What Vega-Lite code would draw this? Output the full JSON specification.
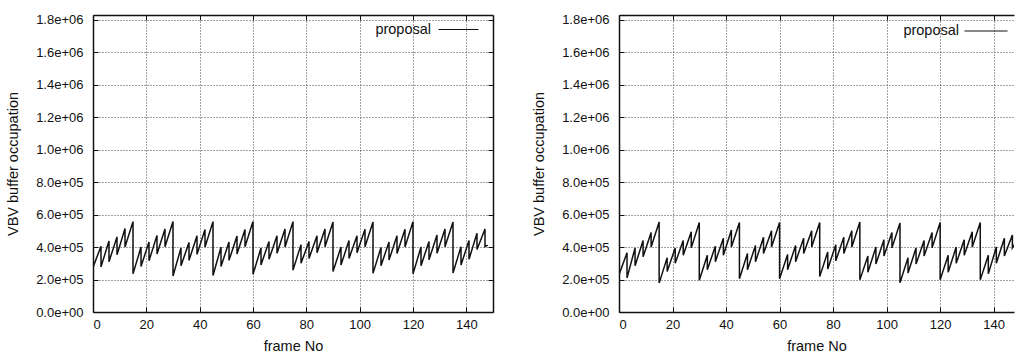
{
  "$schema": "https://vega.github.io/schema/vega-lite/v6.json",
  "background": "white",
  "padding": {"left": 5, "top": 9, "right": 0, "bottom": 0},
  "spacing": 37,
  "resolve": {"scale": {"color": "independent"}, "legend": {"color": "independent"}},
  "config": {
    "font": "Liberation Sans",
    "view": {"stroke": null},
    "axis": {
      "domainColor": "#111",
      "domainWidth": 1.5,
      "tickColor": "#111",
      "tickWidth": 1,
      "tickSize": -5,
      "labelColor": "#111",
      "labelFontSize": 13,
      "titleColor": "#111",
      "titleFontSize": 14.5,
      "titleFontWeight": "normal",
      "gridColor": "#444",
      "gridDash": [1, 2],
      "gridWidth": 1
    }
  },
  "datasets": {
    "left": [
      {"i": 0, "frame": 0, "value": 275000},
      {"i": 1, "frame": 3, "value": 405000}, {"i": 2, "frame": 3, "value": 278000},
      {"i": 3, "frame": 6, "value": 438000}, {"i": 4, "frame": 6, "value": 310000},
      {"i": 5, "frame": 9, "value": 463000}, {"i": 6, "frame": 9, "value": 352000},
      {"i": 7, "frame": 12, "value": 515000}, {"i": 8, "frame": 12, "value": 400000},
      {"i": 9, "frame": 15, "value": 557000}, {"i": 10, "frame": 15, "value": 235000},
      {"i": 11, "frame": 18, "value": 400000}, {"i": 12, "frame": 18, "value": 280000},
      {"i": 13, "frame": 21, "value": 432000}, {"i": 14, "frame": 21, "value": 316000},
      {"i": 15, "frame": 24, "value": 472000}, {"i": 16, "frame": 24, "value": 358000},
      {"i": 17, "frame": 27, "value": 512000}, {"i": 18, "frame": 27, "value": 402000},
      {"i": 19, "frame": 30, "value": 557000}, {"i": 20, "frame": 30, "value": 222000},
      {"i": 21, "frame": 33, "value": 395000}, {"i": 22, "frame": 33, "value": 285000},
      {"i": 23, "frame": 36, "value": 428000}, {"i": 24, "frame": 36, "value": 318000},
      {"i": 25, "frame": 39, "value": 470000}, {"i": 26, "frame": 39, "value": 355000},
      {"i": 27, "frame": 42, "value": 508000}, {"i": 28, "frame": 42, "value": 400000},
      {"i": 29, "frame": 45, "value": 557000}, {"i": 30, "frame": 45, "value": 225000},
      {"i": 31, "frame": 48, "value": 400000}, {"i": 32, "frame": 48, "value": 280000},
      {"i": 33, "frame": 51, "value": 432000}, {"i": 34, "frame": 51, "value": 318000},
      {"i": 35, "frame": 54, "value": 468000}, {"i": 36, "frame": 54, "value": 358000},
      {"i": 37, "frame": 57, "value": 508000}, {"i": 38, "frame": 57, "value": 402000},
      {"i": 39, "frame": 60, "value": 557000}, {"i": 40, "frame": 60, "value": 232000},
      {"i": 41, "frame": 63, "value": 395000}, {"i": 42, "frame": 63, "value": 290000},
      {"i": 43, "frame": 66, "value": 435000}, {"i": 44, "frame": 66, "value": 325000},
      {"i": 45, "frame": 69, "value": 470000}, {"i": 46, "frame": 69, "value": 362000},
      {"i": 47, "frame": 72, "value": 512000}, {"i": 48, "frame": 72, "value": 400000},
      {"i": 49, "frame": 75, "value": 557000}, {"i": 50, "frame": 75, "value": 258000},
      {"i": 51, "frame": 78, "value": 415000}, {"i": 52, "frame": 78, "value": 300000},
      {"i": 53, "frame": 81, "value": 435000}, {"i": 54, "frame": 81, "value": 330000},
      {"i": 55, "frame": 84, "value": 470000}, {"i": 56, "frame": 84, "value": 365000},
      {"i": 57, "frame": 87, "value": 512000}, {"i": 58, "frame": 87, "value": 402000},
      {"i": 59, "frame": 90, "value": 555000}, {"i": 60, "frame": 90, "value": 250000},
      {"i": 61, "frame": 93, "value": 400000}, {"i": 62, "frame": 93, "value": 290000},
      {"i": 63, "frame": 96, "value": 440000}, {"i": 64, "frame": 96, "value": 330000},
      {"i": 65, "frame": 99, "value": 470000}, {"i": 66, "frame": 99, "value": 365000},
      {"i": 67, "frame": 102, "value": 510000}, {"i": 68, "frame": 102, "value": 402000},
      {"i": 69, "frame": 105, "value": 555000}, {"i": 70, "frame": 105, "value": 238000},
      {"i": 71, "frame": 108, "value": 398000}, {"i": 72, "frame": 108, "value": 285000},
      {"i": 73, "frame": 111, "value": 432000}, {"i": 74, "frame": 111, "value": 320000},
      {"i": 75, "frame": 114, "value": 470000}, {"i": 76, "frame": 114, "value": 360000},
      {"i": 77, "frame": 117, "value": 510000}, {"i": 78, "frame": 117, "value": 400000},
      {"i": 79, "frame": 120, "value": 557000}, {"i": 80, "frame": 120, "value": 235000},
      {"i": 81, "frame": 123, "value": 400000}, {"i": 82, "frame": 123, "value": 285000},
      {"i": 83, "frame": 126, "value": 435000}, {"i": 84, "frame": 126, "value": 322000},
      {"i": 85, "frame": 129, "value": 475000}, {"i": 86, "frame": 129, "value": 362000},
      {"i": 87, "frame": 132, "value": 512000}, {"i": 88, "frame": 132, "value": 402000},
      {"i": 89, "frame": 135, "value": 555000}, {"i": 90, "frame": 135, "value": 240000},
      {"i": 91, "frame": 138, "value": 402000}, {"i": 92, "frame": 138, "value": 290000},
      {"i": 93, "frame": 141, "value": 440000}, {"i": 94, "frame": 141, "value": 325000},
      {"i": 95, "frame": 144, "value": 485000}, {"i": 96, "frame": 144, "value": 385000},
      {"i": 97, "frame": 147, "value": 512000}, {"i": 98, "frame": 147, "value": 402000},
      {"i": 99, "frame": 148, "value": 412000}
    ],
    "right": [
      {"i": 0, "frame": 0, "value": 230000},
      {"i": 1, "frame": 3, "value": 365000}, {"i": 2, "frame": 3, "value": 210000},
      {"i": 3, "frame": 6, "value": 395000}, {"i": 4, "frame": 6, "value": 285000},
      {"i": 5, "frame": 9, "value": 440000}, {"i": 6, "frame": 9, "value": 340000},
      {"i": 7, "frame": 12, "value": 490000}, {"i": 8, "frame": 12, "value": 400000},
      {"i": 9, "frame": 15, "value": 555000}, {"i": 10, "frame": 15, "value": 178000},
      {"i": 11, "frame": 18, "value": 335000}, {"i": 12, "frame": 18, "value": 250000},
      {"i": 13, "frame": 21, "value": 395000}, {"i": 14, "frame": 21, "value": 300000},
      {"i": 15, "frame": 24, "value": 440000}, {"i": 16, "frame": 24, "value": 350000},
      {"i": 17, "frame": 27, "value": 495000}, {"i": 18, "frame": 27, "value": 395000},
      {"i": 19, "frame": 30, "value": 552000}, {"i": 20, "frame": 30, "value": 195000},
      {"i": 21, "frame": 33, "value": 350000}, {"i": 22, "frame": 33, "value": 260000},
      {"i": 23, "frame": 36, "value": 405000}, {"i": 24, "frame": 36, "value": 310000},
      {"i": 25, "frame": 39, "value": 455000}, {"i": 26, "frame": 39, "value": 350000},
      {"i": 27, "frame": 42, "value": 505000}, {"i": 28, "frame": 42, "value": 400000},
      {"i": 29, "frame": 45, "value": 552000}, {"i": 30, "frame": 45, "value": 205000},
      {"i": 31, "frame": 48, "value": 360000}, {"i": 32, "frame": 48, "value": 260000},
      {"i": 33, "frame": 51, "value": 410000}, {"i": 34, "frame": 51, "value": 310000},
      {"i": 35, "frame": 54, "value": 460000}, {"i": 36, "frame": 54, "value": 360000},
      {"i": 37, "frame": 57, "value": 500000}, {"i": 38, "frame": 57, "value": 400000},
      {"i": 39, "frame": 60, "value": 552000}, {"i": 40, "frame": 60, "value": 205000},
      {"i": 41, "frame": 63, "value": 355000}, {"i": 42, "frame": 63, "value": 260000},
      {"i": 43, "frame": 66, "value": 410000}, {"i": 44, "frame": 66, "value": 310000},
      {"i": 45, "frame": 69, "value": 455000}, {"i": 46, "frame": 69, "value": 360000},
      {"i": 47, "frame": 72, "value": 500000}, {"i": 48, "frame": 72, "value": 400000},
      {"i": 49, "frame": 75, "value": 552000}, {"i": 50, "frame": 75, "value": 218000},
      {"i": 51, "frame": 78, "value": 370000}, {"i": 52, "frame": 78, "value": 265000},
      {"i": 53, "frame": 81, "value": 415000}, {"i": 54, "frame": 81, "value": 315000},
      {"i": 55, "frame": 84, "value": 460000}, {"i": 56, "frame": 84, "value": 360000},
      {"i": 57, "frame": 87, "value": 500000}, {"i": 58, "frame": 87, "value": 400000},
      {"i": 59, "frame": 90, "value": 555000}, {"i": 60, "frame": 90, "value": 198000},
      {"i": 61, "frame": 93, "value": 345000}, {"i": 62, "frame": 93, "value": 245000},
      {"i": 63, "frame": 96, "value": 400000}, {"i": 64, "frame": 96, "value": 295000},
      {"i": 65, "frame": 99, "value": 445000}, {"i": 66, "frame": 99, "value": 345000},
      {"i": 67, "frame": 102, "value": 490000}, {"i": 68, "frame": 102, "value": 395000},
      {"i": 69, "frame": 105, "value": 548000}, {"i": 70, "frame": 105, "value": 180000},
      {"i": 71, "frame": 108, "value": 335000}, {"i": 72, "frame": 108, "value": 240000},
      {"i": 73, "frame": 111, "value": 395000}, {"i": 74, "frame": 111, "value": 295000},
      {"i": 75, "frame": 114, "value": 440000}, {"i": 76, "frame": 114, "value": 345000},
      {"i": 77, "frame": 117, "value": 490000}, {"i": 78, "frame": 117, "value": 395000},
      {"i": 79, "frame": 120, "value": 552000}, {"i": 80, "frame": 120, "value": 198000},
      {"i": 81, "frame": 123, "value": 350000}, {"i": 82, "frame": 123, "value": 245000},
      {"i": 83, "frame": 126, "value": 400000}, {"i": 84, "frame": 126, "value": 300000},
      {"i": 85, "frame": 129, "value": 445000}, {"i": 86, "frame": 129, "value": 350000},
      {"i": 87, "frame": 132, "value": 495000}, {"i": 88, "frame": 132, "value": 400000},
      {"i": 89, "frame": 135, "value": 552000}, {"i": 90, "frame": 135, "value": 198000},
      {"i": 91, "frame": 138, "value": 350000}, {"i": 92, "frame": 138, "value": 235000},
      {"i": 93, "frame": 141, "value": 400000}, {"i": 94, "frame": 141, "value": 300000},
      {"i": 95, "frame": 144, "value": 455000}, {"i": 96, "frame": 144, "value": 345000},
      {"i": 97, "frame": 147, "value": 475000}, {"i": 98, "frame": 147, "value": 395000},
      {"i": 99, "frame": 148, "value": 420000}
    ]
  },
  "hconcat": [
    {
      "width": 400,
      "height": 297,
      "data": {"name": "left"},
      "layer": [
        {
          "mark": {"type": "line", "strokeWidth": 1.5, "clip": true},
          "encoding": {
            "x": {"field": "frame", "type": "quantitative", "scale": {"domain": [0, 150], "nice": false},
                  "axis": {"orient": "bottom", "values": [0, 20, 40, 60, 80, 100, 120, 140], "title": "frame No", "grid": true, "labelPadding": 11, "titlePadding": 8}},
            "y": {"field": "value", "type": "quantitative", "scale": {"domain": [0, 1830000], "nice": false},
                  "axis": {"orient": "left", "values": [0, 200000, 400000, 600000, 800000, 1000000, 1200000, 1400000, 1600000, 1800000], "title": "VBV buffer occupation", "grid": true, "labelPadding": 15, "titlePadding": 15, "labelExpr": "replace(format(datum.value, '.1e'), 'e+', 'e+0')"}},
            "order": {"field": "i", "type": "quantitative"},
            "color": {"datum": "proposal", "scale": {"range": ["#111"]},
                      "legend": {"orient": "none", "legendX": 345, "legendY": -6, "title": null, "padding": 0, "symbolType": "stroke", "symbolSize": 1600, "symbolStrokeWidth": 1, "labelAlign": "right", "labelOffset": -48, "labelFontSize": 14.5, "labelColor": "#111"}}
          }
        },
        {
          "mark": {"type": "line", "strokeOpacity": 0},
          "encoding": {
            "x": {"field": "frame", "type": "quantitative", "scale": {"domain": [0, 150], "nice": false},
                  "axis": {"orient": "top", "values": [0, 20, 40, 60, 80, 100, 120, 140], "labels": false, "title": null, "grid": false}},
            "y": {"field": "value", "type": "quantitative", "scale": {"domain": [0, 1830000], "nice": false},
                  "axis": {"orient": "right", "values": [0, 200000, 400000, 600000, 800000, 1000000, 1200000, 1400000, 1600000, 1800000], "labels": false, "title": null, "grid": false}},
            "order": {"field": "i", "type": "quantitative"}
          }
        }
      ],
      "resolve": {"axis": {"x": "independent", "y": "independent"}}
    },
    {
      "width": 395,
      "height": 297,
      "data": {"name": "right"},
      "layer": [
        {
          "mark": {"type": "line", "strokeWidth": 1.5, "clip": true},
          "encoding": {
            "x": {"field": "frame", "type": "quantitative", "scale": {"domain": [0, 147.6], "nice": false},
                  "axis": {"orient": "bottom", "values": [0, 20, 40, 60, 80, 100, 120, 140], "title": "frame No", "grid": true, "labelPadding": 11, "titlePadding": 8}},
            "y": {"field": "value", "type": "quantitative", "scale": {"domain": [0, 1830000], "nice": false},
                  "axis": {"orient": "left", "values": [0, 200000, 400000, 600000, 800000, 1000000, 1200000, 1400000, 1600000, 1800000], "title": "VBV buffer occupation", "grid": true, "labelPadding": 15, "titlePadding": 15, "labelExpr": "replace(format(datum.value, '.1e'), 'e+', 'e+0')"}},
            "order": {"field": "i", "type": "quantitative"},
            "color": {"datum": "proposal", "scale": {"range": ["#111"]},
                      "legend": {"orient": "none", "legendX": 345, "legendY": -6, "title": null, "padding": 0, "symbolType": "stroke", "symbolSize": 1849, "symbolStrokeWidth": 1, "labelAlign": "right", "labelOffset": -49, "labelFontSize": 14.5, "labelColor": "#111"}}
          }
        },
        {
          "mark": {"type": "line", "strokeOpacity": 0},
          "encoding": {
            "x": {"field": "frame", "type": "quantitative", "scale": {"domain": [0, 147.6], "nice": false},
                  "axis": {"orient": "top", "values": [0, 20, 40, 60, 80, 100, 120, 140], "labels": false, "title": null, "grid": false}},
            "y": {"field": "value", "type": "quantitative", "scale": {"domain": [0, 1830000], "nice": false}, "axis": null},
            "order": {"field": "i", "type": "quantitative"}
          }
        }
      ],
      "resolve": {"axis": {"x": "independent", "y": "independent"}}
    }
  ]
}
